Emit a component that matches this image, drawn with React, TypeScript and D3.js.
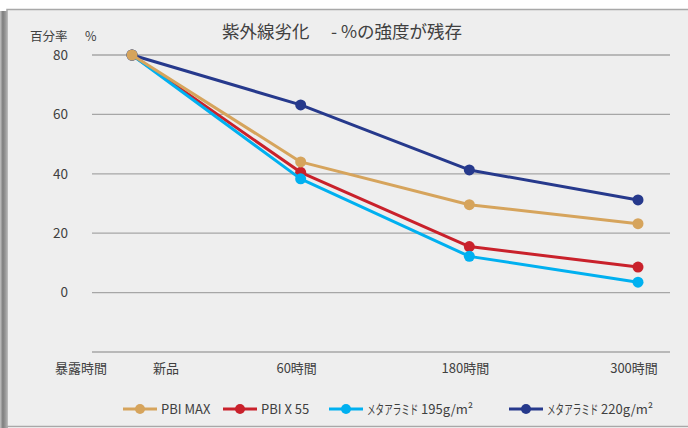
import React from 'react';
import * as d3 from 'd3';

const categories = ['新品', '60時間', '180時間', '300時間'];
const yTicks = [0, 20, 40, 60, 80];
const gridValues = [-20, 0, 20, 40, 60, 80];

const pbiMax = [80, 44, 29.6, 23.2];
const pbiX55 = [80, 40.5, 15.5, 8.6];
const meta195 = [80, 38.3, 12.2, 3.5];
const meta220 = [80, 63.2, 41.3, 31.2];

const series = [
    { name: 'PBI MAX', values: pbiMax, color: '#d6a45c' },
    { name: 'PBI X 55', values: pbiX55, color: '#c9212b' },
    { name: 'メタアラミド', unit: '195g/m²', values: meta195, color: '#00b0f0' },
    { name: 'メタアラミド', unit: '220g/m²', values: meta220, color: '#26398c' }
];
// draw order: gold last so its marker sits on top at the start point
const drawOrder = [1, 2, 3, 0];

const font = '"Noto Sans CJK JP", "Noto Sans", sans-serif';
const textColor = '#404040';

export default function App() {
    const W = 688;
    const H = 428;

    const x = d3.scalePoint().domain(categories).range([132, 638]);
    const y = d3.scaleLinear().domain([-20, 80]).range([352, 55]);

    const line = d3.line<number>()
        .x((_, i) => x(categories[i]))
        .y((d) => y(d));

    const legendX = [123, 223, 329, 509];

    return (
        <svg width={W} height={H} style={{ position: 'absolute', left: 0, top: 0, display: 'block' }}
            fontFamily={font}>
            <defs>
                <linearGradient id="shadow" x1="0" x2="1" y1="0" y2="0">
                    <stop offset="0" stopColor="#c4c4c4" />
                    <stop offset="0.35" stopColor="#7d7d7d" />
                    <stop offset="1" stopColor="#b5b5b5" />
                </linearGradient>
            </defs>
            <rect width={W} height={H} fill="#ffffff" />
            <rect x={0} y={11} width={8} height={H - 11} fill="url(#shadow)" />
            <rect x={7} y={9.5} width={W} height={417} fill="#eeeeee" stroke="#a8a8a8" strokeWidth={1.5} />

            <text x={342} y={38} textAnchor="middle" fontSize={17.5} fill={textColor}>
                紫外線劣化　 - %の強度が残存
            </text>
            <text x={30} y={41} fontSize={12.5} fill={textColor}>百分率</text>
            <text x={85} y={41} fontSize={12.5} fill={textColor}>%</text>

            {gridValues.map((v) => (
                <line key={v} x1={92} x2={670} y1={y(v)} y2={y(v)} stroke="#a6a6a6" strokeWidth={1.3} />
            ))}
            {yTicks.map((v) => (
                <text key={v} x={68} y={y(v)} dy="0.35em" textAnchor="end" fontSize={13.5} fill={textColor}>
                    {v}
                </text>
            ))}

            <text x={81} y={372.5} textAnchor="middle" fontSize={13} fill={textColor}>暴露時間</text>
            {categories.map((c, i) => (
                <text key={c} x={x(c) + (i === 0 ? 34 : -4)} y={372.5} textAnchor="middle" fontSize={13}
                    fill={textColor}>
                    {c}
                </text>
            ))}

            {drawOrder.map((si) => {
                const s = series[si];
                return (
                    <g key={si}>
                        <path d={line(s.values)} fill="none" stroke={s.color} strokeWidth={3}
                            strokeLinejoin="round" />
                        {s.values.map((v, i) => (
                            <circle key={i} cx={x(categories[i])} cy={y(v)} r={5.5} fill={s.color} />
                        ))}
                    </g>
                );
            })}

            {series.map((s, i) => {
                const lx = legendX[i];
                return (
                    <g key={i} transform={`translate(${lx}, 409)`}>
                        <line x1={0} x2={34} y1={0} y2={0} stroke={s.color} strokeWidth={3} />
                        <circle cx={17} cy={0} r={5} fill={s.color} />
                        {s.unit ? (
                            <>
                                <text transform="translate(38, 0) scale(0.66, 1)" dy="0.35em" fontSize={13}
                                    fill={textColor}>
                                    {s.name}
                                </text>
                                <text x={92} y={0} dy="0.35em" fontSize={13} fill={textColor}>
                                    {s.unit}
                                </text>
                            </>
                        ) : (
                            <text x={38} y={0} dy="0.35em" fontSize={13} fill={textColor}>{s.name}</text>
                        )}
                    </g>
                );
            })}
        </svg>
    );
}
